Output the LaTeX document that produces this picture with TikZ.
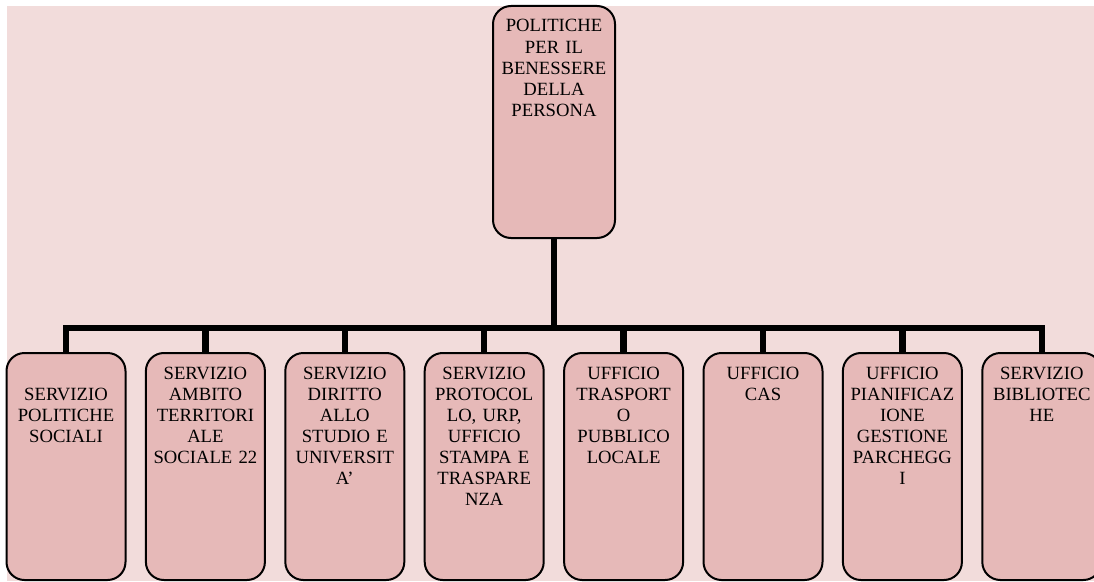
\documentclass[tikz,border=0pt]{standalone}
\usepackage{fontspec}
\setmainfont{Liberation Serif}
\definecolor{bgpink}{HTML}{F2DCDB}
\definecolor{boxpink}{HTML}{E6B9B8}
\tikzset{
  unit/.style={draw=black, line width=1.5pt, fill=boxpink, rounded corners=13.5pt,
    inner sep=0pt, anchor=north, align=center,
    font=\fontsize{14}{15.8}\selectfont, text height=19.5pt},
  headbox/.style={unit, text width=91.5pt, text depth=154.5pt},
  subbox/.style={unit, text width=89.25pt, text depth=150.75pt},
  link/.style={line width=4.8pt}
}
\begin{document}
\begin{tikzpicture}[x=0.75pt, y=-0.75pt]
    \path[use as bounding box] (0,0) rectangle (1094,581);
    \fill[bgpink] (7,6) rectangle (1094,581);

    % vertice
    \node[headbox] (head) at (554,5) {POLITICHE\\PER IL\\BENESSERE\\DELLA\\PERSONA};

    % servizi e uffici
    \node[subbox] (s1) at (66,352) {\mbox{}\\SERVIZIO\\POLITICHE\\SOCIALI};
    \node[subbox] (s2) at (205.4,352) {SERVIZIO\\AMBITO\\TERRITORI\\ALE\\SOCIALE 22};
    \node[subbox] (s3) at (344.8,352) {SERVIZIO\\DIRITTO\\ALLO\\STUDIO E\\UNIVERSIT\\A'};
    \node[subbox] (s4) at (484.2,352) {SERVIZIO\\PROTOCOL\\LO, URP,\\UFFICIO\\STAMPA E\\TRASPARE\\NZA};
    \node[subbox] (s5) at (623.6,352) {UFFICIO\\TRASPORT\\O\\PUBBLICO\\LOCALE};
    \node[subbox] (s6) at (763,352) {UFFICIO\\CAS};
    \node[subbox] (s7) at (902.4,352) {UFFICIO\\PIANIFICAZ\\IONE\\GESTIONE\\PARCHEGG\\I};
    \node[subbox] (s8) at (1041.8,352) {SERVIZIO\\BIBLIOTEC\\HE};

    % collegamenti
    \coordinate (bar) at (554,328);
    \draw[link] (head.south) -- (bar);
    \draw[link] (bar) -| (s1.north);
    \draw[link] (bar) -| (s2.north);
    \draw[link] (bar) -| (s3.north);
    \draw[link] (bar) -| (s4.north);
    \draw[link] (bar) -| (s5.north);
    \draw[link] (bar) -| (s6.north);
    \draw[link] (bar) -| (s7.north);
    \draw[link] (bar) -| (s8.north);
\end{tikzpicture}
\end{document}
